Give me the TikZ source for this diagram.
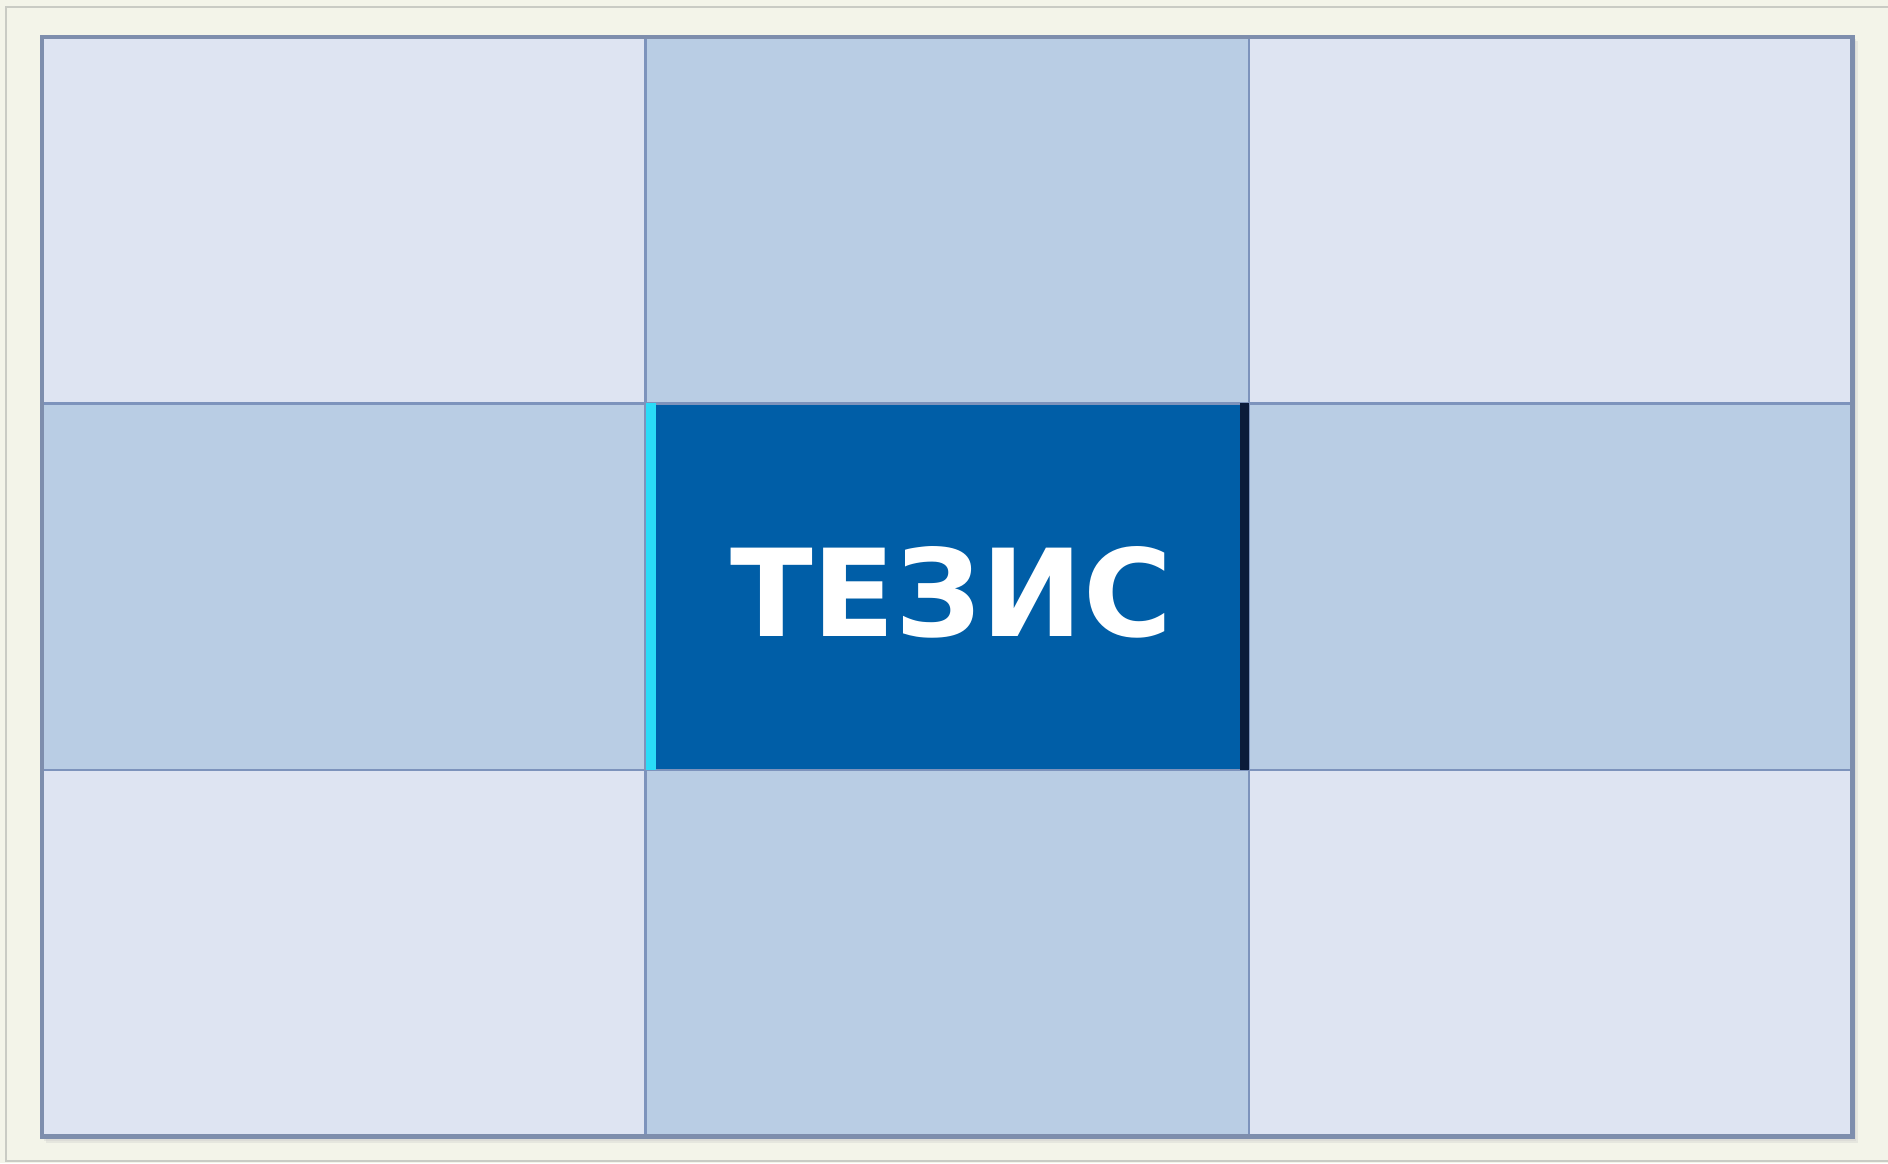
\documentclass[tikz,border=0pt]{standalone}
\usepackage{fontspec}
\newfontfamily\thesisfont{DejaVu Sans}
\usetikzlibrary{positioning}

\definecolor{paper}{HTML}{F3F4E9}
\definecolor{paperline}{HTML}{C9CBC4}
\definecolor{palecell}{HTML}{DEE4F2}
\definecolor{midcell}{HTML}{B9CDE4}
\definecolor{gridline}{HTML}{7D93BC}
\definecolor{thesisblue}{HTML}{005EA7}
\definecolor{edgecyan}{HTML}{2ADCF8}
\definecolor{edgedark}{HTML}{0B1B3A}

\tikzset{
  cell/.style={draw=gridline,line width=0.6pt,minimum width=6.035cm,minimum height=3.665cm,inner sep=0pt,outer sep=0pt},
  palebox/.style={cell,fill=palecell},
  midbox/.style={cell,fill=midcell},
  thesisbox/.style={cell,fill=thesisblue,text=white,font=\thesisfont\bfseries\fontsize{34.5}{40}\selectfont}
}

\begin{document}
\begin{tikzpicture}[x=1cm,y=1cm]
\useasboundingbox (0,0) rectangle (18.88,11.63);
\fill[paper] (0,0) rectangle (18.88,11.63);
\draw[paperline,line width=0.8pt] (18.88,11.56) -- (0.06,11.56) -- (0.06,0.02) -- (18.88,0.02);
% soft shadow under the grid
\fill[gray!40,opacity=0.35] (0.46,0.2) rectangle (18.58,11.22);
\fill[gray!40,opacity=0.35] (0.44,0.22) rectangle (18.56,11.24);
% top row
\node[palebox] (c11) at (3.4375,9.4275) {};
\node[midbox,right=0pt of c11] (c12) {};
\node[palebox,right=0pt of c12] (c13) {};
% middle row
\node[midbox,below=0pt of c11] (c21) {};
\node[thesisbox,right=0pt of c21] (c22) {};
\node[midbox,right=0pt of c22] (c23) {};
% bottom row
\node[palebox,below=0pt of c21] (c31) {};
\node[midbox,right=0pt of c31] (c32) {};
\node[palebox,right=0pt of c32] (c33) {};
% lit and shaded edges of the middle box
\fill[edgecyan] (c22.south west) rectangle ([xshift=0.1cm]c22.north west);
\fill[edgedark] ([xshift=-0.09cm]c22.south east) rectangle (c22.north east);
\node[text=white,font=\thesisfont\bfseries\fontsize{34.5}{40}\selectfont] (title) at ([xshift=0.04cm,yshift=-0.06cm]c22.center) {ТЕЗИС};
% outer frame
\draw[gridline!75!gray,line width=1.2pt] (c31.south west) rectangle (c13.north east);
\end{tikzpicture}
\end{document}
